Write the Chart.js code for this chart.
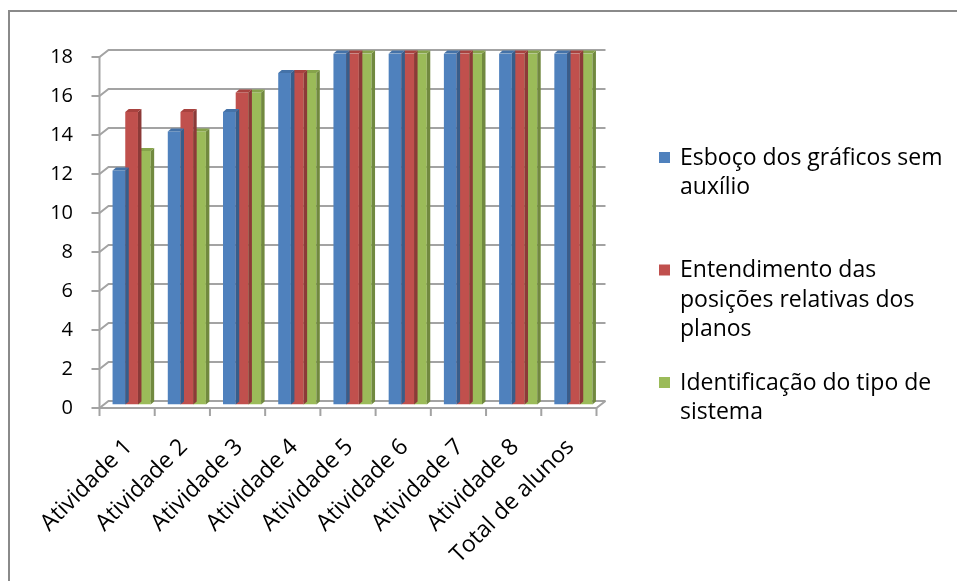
<!DOCTYPE html>
<html>
<head>
<meta charset="utf-8">
<script src="https://cdn.jsdelivr.net/npm/chart.js@4.4.0/dist/chart.umd.min.js"></script>
<style>
  html, body { margin: 0; padding: 0; background: #ffffff; }
  canvas { display: block; }
</style>
</head>
<body>
<canvas id="chart" width="957" height="581"></canvas>
<script>
// Categories and series
const categories = ['Atividade 1', 'Atividade 2', 'Atividade 3', 'Atividade 4', 'Atividade 5',
                    'Atividade 6', 'Atividade 7', 'Atividade 8', 'Total de alunos'];
const seriesNames = ['Esboço dos gráficos sem auxílio',
                     'Entendimento das posições relativas dos planos',
                     'Identificação do tipo de sistema'];
const esbocoGraficos     = [12, 14, 15, 17, 18, 18, 18, 18, 18];
const entendimentoPlanos = [15, 15, 16, 17, 18, 18, 18, 18, 18];
const identificacaoTipo  = [13, 14, 16, 17, 18, 18, 18, 18, 18];
const yMin = 0, yMax = 18, yStep = 2;

// Styling
const FONT = '"Open Sans", Lato, sans-serif';
const TEXT_SIZE = 23;   // category labels and legend
const NUM_SIZE = 20;    // value axis
const GRID = '#a3a3a3';
const faces = [
  { front: '#4f81bd', side: '#385d8a', top: '#4472a8' },
  { front: '#c0504d', side: '#8c3a38', top: '#a8423f' },
  { front: '#9bbb59', side: '#71893f', top: '#86a34b' }
];
const DEPTH_X = 9, DEPTH_Y = 7;     // depth of the pseudo-3D box
const BAR_DX = 3.5, BAR_DY = 3;     // depth of each bar's side/top face

// Back wall, gridlines, front axis and floor
const wallPlugin = {
  id: 'wall',
  beforeDatasetsDraw(chart) {
    const { ctx, chartArea: a, scales: { x, y } } = chart;
    const hx = DEPTH_X / 2, hy = DEPTH_Y / 2;
    ctx.save();
    ctx.strokeStyle = GRID;
    ctx.lineWidth = 2;
    y.ticks.forEach(t => {
      const py = y.getPixelForValue(t.value);
      ctx.beginPath();
      ctx.moveTo(a.left - hx - 8, py + hy);
      ctx.lineTo(a.left - hx, py + hy);
      ctx.lineTo(a.left + hx, py - hy);
      ctx.lineTo(a.right + hx, py - hy);
      ctx.stroke();
    });
    const y0 = y.getPixelForValue(yMin), yTop = y.getPixelForValue(yMax);
    ctx.beginPath();
    ctx.moveTo(a.left - hx, yTop + hy);
    ctx.lineTo(a.left - hx, y0 + hy);
    ctx.lineTo(a.right - hx, y0 + hy);
    ctx.lineTo(a.right + hx, y0 - hy);
    ctx.stroke();
    // category boundary ticks on the front floor edge
    const step = x.getPixelForValue(1) - x.getPixelForValue(0);
    ctx.beginPath();
    for (let i = 0; i <= categories.length; i++) {
      const px = x.getPixelForValue(0) - step / 2 + i * step - hx;
      ctx.moveTo(px, y0 + hy);
      ctx.lineTo(px, y0 + hy + 8);
    }
    ctx.stroke();
    ctx.restore();
  },
  afterDatasetDraw(chart, args) {
    const { ctx } = chart;
    const f = faces[args.index];
    ctx.save();
    args.meta.data.forEach(el => {
      const { x: cx, y: top, base, width } = el.getProps(['x', 'y', 'base', 'width'], true);
      const l = cx - width / 2, r = cx + width / 2;
      // right side face
      ctx.fillStyle = f.side;
      ctx.beginPath();
      ctx.moveTo(r, top);
      ctx.lineTo(r + BAR_DX, top - BAR_DY);
      ctx.lineTo(r + BAR_DX, base - BAR_DY);
      ctx.lineTo(r, base);
      ctx.closePath();
      ctx.fill();
      // top face
      ctx.fillStyle = f.top;
      ctx.beginPath();
      ctx.moveTo(l, top);
      ctx.lineTo(l + BAR_DX, top - BAR_DY);
      ctx.lineTo(r + BAR_DX, top - BAR_DY);
      ctx.lineTo(r, top);
      ctx.closePath();
      ctx.fill();
    });
    ctx.restore();
  }
};

// Legend on the right, word-wrapped
const legendPlugin = {
  id: 'sideLegend',
  afterDraw(chart) {
    const { ctx } = chart;
    const X = 659, TEXT_X = 680, FIRST = 158, GAP = 112.5, LINE = 29.5, MAXW = 280;
    ctx.save();
    ctx.font = TEXT_SIZE + 'px ' + FONT;
    ctx.textBaseline = 'middle';
    chart.data.datasets.forEach((ds, i) => {
      const words = ds.label.split(' ');
      const lines = [];
      let cur = '';
      words.forEach(w => {
        const test = cur ? cur + ' ' + w : w;
        if (ctx.measureText(test).width > MAXW && cur) { lines.push(cur); cur = w; }
        else cur = test;
      });
      if (cur) lines.push(cur);
      const cy = FIRST + i * GAP;
      ctx.fillStyle = faces[i].front;
      ctx.fillRect(X, cy - 6, 11, 11);
      ctx.fillStyle = '#000';
      lines.forEach((ln, k) => ctx.fillText(ln, TEXT_X, cy + k * LINE));
    });
    ctx.restore();
  }
};

// Outer frame
const framePlugin = {
  id: 'frame',
  afterDraw(chart) {
    const { ctx } = chart;
    ctx.save();
    ctx.strokeStyle = '#8a8a8a';
    ctx.lineWidth = 2;
    ctx.strokeRect(9, 11, 1000, 700);
    ctx.restore();
  }
};

new Chart(document.getElementById('chart'), {
  type: 'bar',
  data: {
    labels: categories,
    datasets: [
      { label: seriesNames[0], data: esbocoGraficos,     backgroundColor: faces[0].front },
      { label: seriesNames[1], data: entendimentoPlanos, backgroundColor: faces[1].front },
      { label: seriesNames[2], data: identificacaoTipo,  backgroundColor: faces[2].front }
    ]
  },
  options: {
    responsive: false,
    animation: false,
    devicePixelRatio: 1,
    layout: { padding: { left: 0, top: 53.5, right: 356, bottom: 0 } },
    datasets: { bar: { categoryPercentage: 0.69, barPercentage: 1.0, borderWidth: 0 } },
    plugins: { legend: { display: false }, tooltip: { enabled: false } },
    scales: {
      x: {
        grid: { display: false, drawTicks: false },
        border: { display: false },
        ticks: {
          autoSkip: false, minRotation: 45, maxRotation: 45,
          padding: 29, labelOffset: -3,
          color: '#000', font: { family: FONT, size: TEXT_SIZE }
        },
        afterFit(s) { s.height = 176.5; }
      },
      y: {
        min: yMin, max: yMax,
        grid: { display: false, drawTicks: false },
        border: { display: false },
        ticks: {
          stepSize: yStep, padding: 31, labelOffset: 3.5,
          color: '#000', font: { family: FONT, size: NUM_SIZE }
        },
        afterFit(s) { s.width = 104; }
      }
    }
  },
  plugins: [wallPlugin, legendPlugin, framePlugin]
});
</script>
</body>
</html>
